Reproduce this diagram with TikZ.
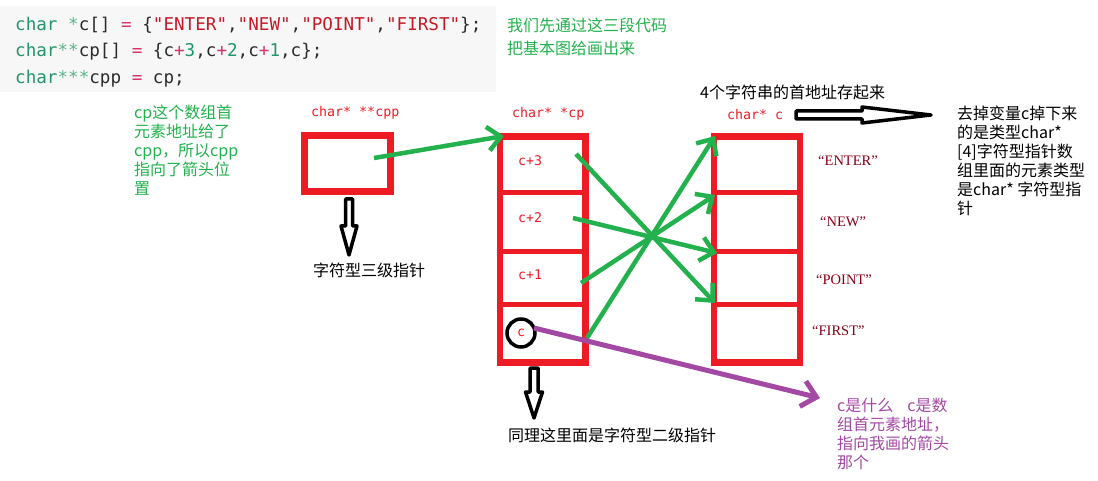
\documentclass[tikz,border=0pt]{standalone}
\usepackage{fontspec}
\setmonofont{DejaVu Sans Mono}
\newfontfamily\cjk{Noto Sans CJK SC}
\newfontfamily\strfont{Liberation Serif}
\usetikzlibrary{arrows.meta}
\definecolor{pgreen}{HTML}{22B14C}
\definecolor{pred}{HTML}{ED1C24}
\definecolor{pdarkred}{HTML}{880015}
\definecolor{ppurple}{HTML}{A349A4}
\definecolor{codebg}{HTML}{F7F7F7}
\definecolor{codegreen}{HTML}{23956A}
\definecolor{codelight}{HTML}{5DB58C}
\definecolor{codeop}{HTML}{D6336B}
\definecolor{codestr}{HTML}{C41A26}
\definecolor{codetext}{HTML}{2B2B2B}
\newcommand\ckw[1]{\textcolor{codegreen}{#1}}
\newcommand\cstar[1]{\textcolor{codelight}{#1}}
\newcommand\cop[1]{\textcolor{codeop}{#1}}
\newcommand\cstr[1]{\textcolor{codestr}{#1}}
\tikzset{
  codeline/.style={anchor=west, inner sep=0pt, text=codetext,
    font=\ttfamily\fontsize{17.6}{20}\selectfont},
  redbox/.style={draw=pred, line width=6.5pt, inner sep=0pt},
  divider/.style={draw=pred, line width=5pt},
  redlabel/.style={anchor=west, inner sep=0pt, text=pred,
    font=\ttfamily\fontsize{13.3}{15}\selectfont},
  strlabel/.style={anchor=west, inner sep=0pt, text=pdarkred,
    font=\strfont\fontsize{14.5}{16}\selectfont},
  cjktext/.style={anchor=north west, inner sep=0pt, align=left,
    font=\cjk\fontsize{16}{19}\selectfont},
  cjkline/.style={anchor=west, inner sep=0pt,
    font=\cjk\fontsize{16}{19}\selectfont},
  greenarrow/.style={draw=pgreen, line width=4.5pt,
    -{Straight Barb[length=13pt,width=24pt]}},
  purplearrow/.style={draw=ppurple, line width=5pt,
    -{Straight Barb[length=14pt,width=26pt]}},
  hollowarrow/.style={draw=black, fill=white, line width=3.5pt, line join=round},
}
\begin{document}
\begin{tikzpicture}[x=1pt,y=-1pt]
\useasboundingbox (0,0) rectangle (1098,481);
% code block
\fill[codebg] (0,6) rectangle (496,92);
\node[codeline] (l1) at (15,25) {\ckw{char} \cstar{*}c[] \cop{=} \{\cstr{"ENTER"},\cstr{"NEW"},\cstr{"POINT"},\cstr{"FIRST"}\};};
\node[codeline] (l2) at (15,52) {\ckw{char}\cstar{**}cp[] \cop{=} \{c\cop{+}\ckw{3},c\cop{+}\ckw{2},c\cop{+}\ckw{1},c\};};
\node[codeline] (l3) at (15,79) {\ckw{char}\cstar{***}cpp \cop{=} cp;};

% texts
\node[cjktext, text=pgreen, font=\cjk\fontsize{16}{23}\selectfont] (t1) at (507,17.5) {我们先通过这三段代码\\把基本图给画出来};
\node[cjktext, text=pgreen] (t2) at (134,104.5) {cp这个数组首\\元素地址给了\\cpp，所以cpp\\指向了箭头位\\置};
\node[cjkline] (t3) at (700,92) {4个字符串的首地址存起来};
\node[cjktext] (t4) at (957,105.5) {去掉变量c掉下来\\的是类型char*\\{[4]}字符型指针数\\组里面的元素类型\\是char* 字符型指\\针};
\node[cjkline] (t5) at (313,270) {字符型三级指针};
\node[cjkline] (t6) at (508,435) {同理这里面是字符型二级指针};
\node[cjktext, text=ppurple] (t7) at (837,397.5) {c是什么\hspace{14pt}c是数\\组首元素地址，\\指向我画的箭头\\那个};

% labels
\node[redlabel] (lcpp) at (311,113) {char* **cpp};
\node[redlabel] (lcp) at (512,114) {char* *cp};
\node[redlabel] (lc) at (727,115) {char* c};

% boxes
\node[redbox, minimum width=86pt, minimum height=56pt] (cpp) at (347.5,163.5) {};
\node[redbox, minimum width=85.5pt, minimum height=226pt] (cp) at (542.75,249.5) {};
\node[redbox, minimum width=86pt, minimum height=226pt] (c) at (757,249.5) {};
\draw[divider] (500,193) -- (585.5,193);
\draw[divider] (500,252) -- (585.5,252);
\draw[divider] (500,304) -- (585.5,304);
\draw[divider] (714,193) -- (800,193);
\draw[divider] (714,252) -- (800,252);
\draw[divider] (714,304) -- (800,304);

% cell labels
\node[redlabel] (c3) at (518,161) {c+3};
\node[redlabel] (c2) at (518,218) {c+2};
\node[redlabel] (c1) at (518,275) {c+1};
\node[redlabel, anchor=center] (c0) at (521,333) {c};
\node[draw=black, line width=3.5pt, circle, minimum size=28pt, inner sep=0pt] (circ) at (521,333) {};

% string labels
\node[strlabel] (sENTER) at (818,161) {“ENTER”};
\node[strlabel] (sNEW) at (820,222) {“NEW”};
\node[strlabel] (sPOINT) at (816,280) {“POINT”};
\node[strlabel] (sFIRST) at (812,331) {“FIRST”};

% hollow arrows
\draw[hollowarrow] (345.5,199) -- (352.5,199) -- (352.5,226) -- (357,226) -- (349,255) -- (341,226) -- (345.5,226) -- cycle;
\draw[hollowarrow] (530,368) -- (538,368) -- (538,392) -- (542.5,392) -- (534,418) -- (525.5,392) -- (530,392) -- cycle;
\draw[hollowarrow] (796,111) -- (862,111) -- (862,107) -- (931,115) -- (862,123) -- (862,119) -- (796,119) -- cycle;

% green arrows
\coordinate (a0) at (374,158);
\coordinate (b0) at (504,136);
\draw[greenarrow] (a0) -- (b0);
\coordinate (s3) at (576,154);
\coordinate (s2) at (573,218);
\coordinate (s1) at (581,283);
\coordinate (s0) at (587,338);
\coordinate (e0) at (715,136);
\coordinate (e1) at (715,195);
\coordinate (e2) at (717,253);
\coordinate (e3) at (715,303);
\draw[greenarrow] (s3) -- (e3);
\draw[greenarrow] (s2) -- (e2);
\draw[greenarrow] (s1) -- (e1);
\draw[greenarrow] (s0) -- (e0);

% purple arrow
\coordinate (p0) at (534,328);
\coordinate (p1) at (820,398);
\draw[purplearrow] (p0) -- (p1);
\end{tikzpicture}
\end{document}
